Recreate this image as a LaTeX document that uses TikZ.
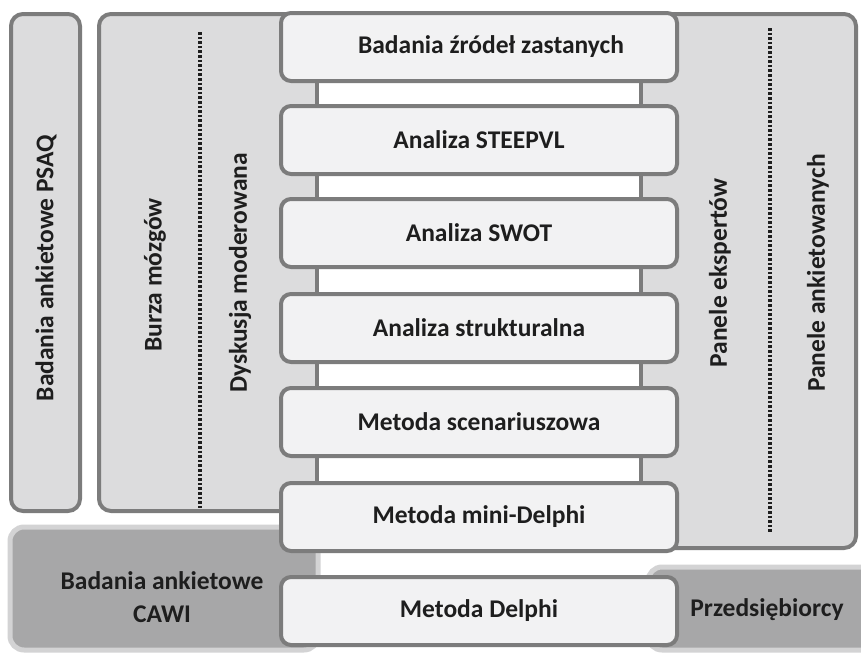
\documentclass[tikz,border=0pt]{standalone}
\usepackage{fontspec}
\setmainfont{Carlito}
\definecolor{edge}{HTML}{7C7C7C}
\definecolor{panelfill}{HTML}{DCDCDD}
\definecolor{boxfill}{HTML}{F2F2F3}
\definecolor{darkfill}{HTML}{A7A7A8}
\definecolor{softedge}{HTML}{D3D3D4}
\definecolor{txt}{HTML}{1E1E1E}
\newcommand{\lblfont}{\bfseries\fontsize{25.5}{33}\selectfont}
\begin{document}
\begin{tikzpicture}[x=1pt,y=-1pt,
  panel/.style={draw=edge, fill=panelfill, line width=4pt, rounded corners=12pt},
  darkpanel/.style={draw=softedge, fill=darkfill, line width=5pt, rounded corners=14pt},
  spine/.style={draw=edge, fill=white, line width=4pt},
  stepbox/.style={draw=edge, fill=boxfill, line width=4pt, rounded corners=10pt,
    minimum width=396pt, minimum height=68pt, inner sep=0pt, font=\lblfont, text=txt},
  lbl/.style={font=\lblfont, text=txt, inner sep=0pt, align=center},
  vlbl/.style={lbl, rotate=90},
  dotline/.style={draw=txt, line width=3.5pt, dash pattern=on 2.6pt off 2pt}]
\useasboundingbox (0,0) rectangle (861,653);
\fill[white] (0,0) rectangle (861,653);
% side panels
\draw[panel] (11,14) rectangle (80,511);
\draw[panel] (99,14) rectangle (340,511);
\draw[panel] (620,14) rectangle (856,548);
% spine behind the steps
\draw[spine] (317,30) rectangle (641,540);
% bottom dark panels
\draw[darkpanel] (10,527) rectangle (318,650);
\draw[darkpanel] (648,567) rectangle (880,650);
% dotted separators
\draw[dotline] (200,32) -- (200,508);
\draw[dotline] (770,28) -- (770,532);
% steps
\node[stepbox] (s1) at (479,47) {\hspace*{24pt}Badania źródeł zastanych};
\node[stepbox] (s2) at (479,140) {Analiza STEEPVL};
\node[stepbox] (s3) at (479,233) {Analiza SWOT};
\node[stepbox] (s4) at (479,328) {Analiza strukturalna};
\node[stepbox] (s5) at (479,422) {Metoda scenariuszowa};
\node[stepbox] (s6) at (479,517) {Metoda mini-Delphi};
\node[stepbox] (s7) at (479,611) {Metoda Delphi};
% labels
\node[vlbl] (psaq) at (46,268) {Badania ankietowe PSAQ};
\node[vlbl] (burza) at (155,275) {Burza mózgów};
\node[vlbl] (dysk) at (240,273) {Dyskusja moderowana};
\node[vlbl] (eksp) at (720,273) {Panele ekspertów};
\node[vlbl] (ankw) at (818,273) {Panele ankietowanych};
\node[lbl] (cawi) at (162,597) {Badania ankietowe\\CAWI};
\node[lbl] (przed) at (767,610) {Przedsiębiorcy};
\end{tikzpicture}
\end{document}
